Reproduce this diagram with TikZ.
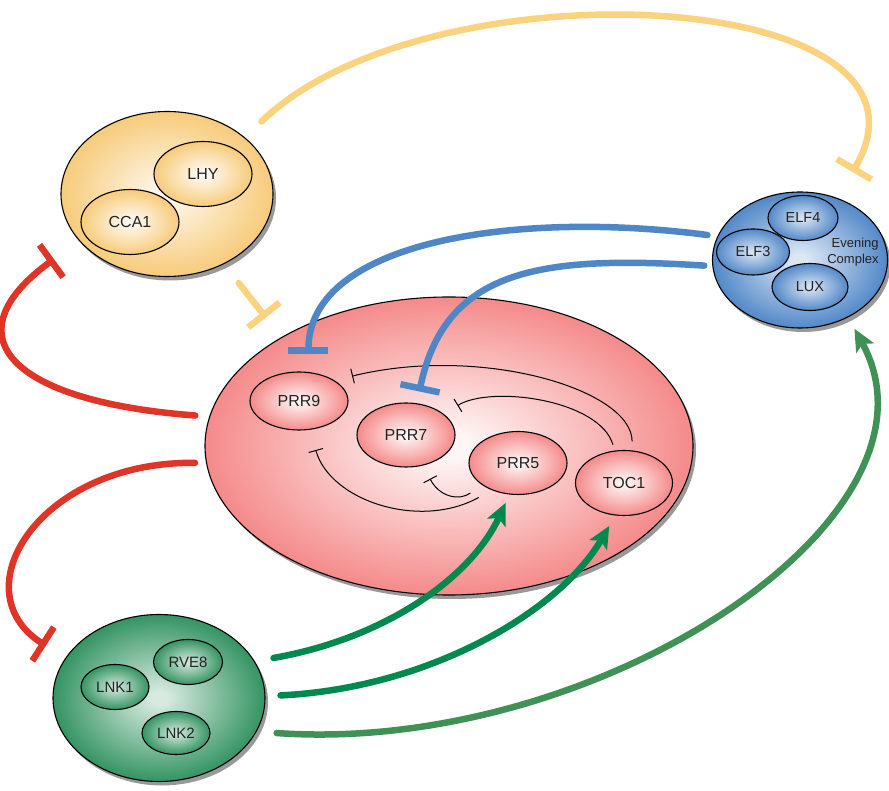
\documentclass[tikz,border=0pt]{standalone}
\usepackage{fontspec}
\setmainfont{Liberation Sans}
\usetikzlibrary{shapes.geometric,shadows,arrows.meta}

\definecolor{ylwline}{RGB}{251,210,125}
\definecolor{redline}{RGB}{224,52,38}
\definecolor{blueline}{RGB}{79,134,198}
\definecolor{greenline}{RGB}{0,137,79}
\definecolor{greenlong}{RGB}{64,145,86}
\definecolor{ylwout}{RGB}{247,203,122}
\definecolor{pinkout}{RGB}{245,138,138}
\definecolor{blueout}{RGB}{82,136,200}
\definecolor{greenout}{RGB}{52,148,98}
\definecolor{labeltext}{RGB}{35,35,35}

\colorlet{blobin}{white}
\colorlet{blobout}{black}
\pgfdeclareradialshading[blobin,blobout]{blob}{\pgfpoint{0bp}{0bp}}{%
  color(0bp)=(blobin); color(2bp)=(blobin); color(25bp)=(blobout); color(50bp)=(blobout)}

\tikzset{
  blob/.style 2 args={ellipse, draw=black, line width=1.1pt, inner sep=0pt,
    /utils/exec={\colorlet{blobin}{#1}\colorlet{blobout}{#2}}, shading=blob,
    text=labeltext, font=\fontsize{16}{18}\selectfont},
  shadowed/.style={drop shadow={shadow xshift=3pt, shadow yshift=-4pt,
    opacity=0.4, fill=black}},
  thick arc/.style={line width=6.5pt, line cap=round},
  ylwarc/.style={thick arc, ylwline, -{Bar[width=40pt]}},
  bluearc/.style={thick arc, blueline, -{Bar[width=40pt]}},
  redarc/.style={thick arc, redline, -{Bar[width=40pt]}},
  greenarc/.style={thick arc, greenline, -{Stealth[length=22pt, width=20pt, inset=5pt]}},
  thininh/.style={line width=1pt, black, -{Bar[width=15pt]}}
}

\begin{document}
\begin{tikzpicture}[x=1pt, y=1pt]
\useasboundingbox (0,0) rectangle (889,790);

\node[blob={white!85!ylwout}{ylwout}, minimum width=212pt, minimum height=165pt, shadowed] (ccalhy) at (167,596) {};
\node[blob={white!92!pinkout}{pinkout}, minimum width=488pt, minimum height=298pt, shadowed] (prrs) at (449,344) {};
\node[blob={blueout!20}{blueout}, minimum width=175pt, minimum height=136pt, shadowed] (ecomp) at (800,530) {};
\node[blob={greenout!20}{greenout}, minimum width=212pt, minimum height=167pt, shadowed] (lnkrve) at (159,92) {};

\node[blob={white!90!ylwout}{ylwout}, minimum width=98pt, minimum height=65pt] (lhy) at (203,616) {LHY};
\node[blob={white!90!ylwout}{ylwout}, minimum width=98pt, minimum height=65pt] (cca) at (130,568) {CCA1};

\node[blob={white!90!pinkout}{pinkout}, minimum width=98pt, minimum height=58pt] (prrnine) at (299,389) {PRR9};
\node[blob={white!90!pinkout}{pinkout}, minimum width=98pt, minimum height=64pt] (prrseven) at (406,355) {PRR7};
\node[blob={white!90!pinkout}{pinkout}, minimum width=98pt, minimum height=63pt] (prrfive) at (518,327) {PRR5};
\node[blob={white!90!pinkout}{pinkout}, minimum width=97pt, minimum height=65pt] (toc) at (624,307) {TOC1};

\node[blob={blueout!25}{blueout}, minimum width=70pt, minimum height=45pt, font=\fontsize{14.5}{16}\selectfont] (elffour) at (803,572) {ELF4};
\node[blob={blueout!25}{blueout}, minimum width=73pt, minimum height=46pt, font=\fontsize{14.5}{16}\selectfont] (elfthree) at (753,538) {ELF3};
\node[blob={blueout!25}{blueout}, minimum width=76pt, minimum height=47pt, font=\fontsize{14.5}{16}\selectfont] (lux) at (810,503) {LUX};
\node[text=labeltext, font=\fontsize{13}{16}\selectfont, align=right] (ectext) at (853,538) {Evening\\Complex};

\node[blob={greenout!25}{greenout}, minimum width=69pt, minimum height=45pt, font=\fontsize{15}{17}\selectfont] (rve) at (188,128) {RVE8};
\node[blob={greenout!25}{greenout}, minimum width=68pt, minimum height=45pt, font=\fontsize{15}{17}\selectfont] (lnkone) at (115,103) {LNK1};
\node[blob={greenout!25}{greenout}, minimum width=68pt, minimum height=43pt, font=\fontsize{15}{17}\selectfont] (lnktwo) at (176,57) {LNK2};

\draw[thininh, shorten <=9pt, shorten >=18pt] (toc.76) .. controls +(0,61) and +(146,36) .. (prrnine.30);
\draw[thininh, shorten <=6pt, shorten >=16pt] (toc.106) .. controls +(-15,51) and +(47,29) .. (prrseven.29);
\draw[thininh, shorten <=15pt, shorten >=21pt] (prrfive.226) .. controls +(-72,-40) and +(20,-71) .. (prrnine.-69);
\draw[thininh, shorten <=14pt, shorten >=15pt] (prrfive.211) .. controls +(-22,-16) and +(17,-32) .. (prrseven.-61);

\draw[ylwarc, shorten <=23pt, shorten >=30pt] (ccalhy.36) .. controls +(185,178) and +(124,211) .. (ecomp.59);
\draw[ylwarc, shorten <=24pt, shorten >=25pt] (ccalhy.-51) -- (prrs.147);

\draw[bluearc, shorten <=10pt, shorten >=18pt] (ecomp.164) .. controls +(-198,26) and +(0,132) .. (prrnine.72);
\draw[bluearc, shorten <=8pt, shorten >=12pt] (ecomp.184) .. controls +(-173,11) and +(28,134) .. (prrseven.71);

\draw[redarc, shorten <=14pt, shorten >=31pt] (prrs.173) .. controls +(-200,15) and +(-130,-95) .. (ccalhy.208);
\draw[redarc, shorten <=11pt, shorten >=23pt] (prrs.184) .. controls +(-166,2) and +(-106,68) .. (lnkrve.157);

\draw[greenarc, shorten <=19pt, shorten >=9pt] (lnkrve.21) .. controls +(126,22) and +(-40,-86) .. (prrfive.255);
\draw[greenarc, shorten <=15pt, shorten >=12pt] (lnkrve.1) .. controls +(165,8) and +(-55,-95) .. (toc.255);
\draw[greenarc, greenlong, shorten <=20pt, shorten >=13pt] (lnkrve.-19) .. controls +(340,-24) and +(110,-200) .. (ecomp.-50);

\end{tikzpicture}
\end{document}
